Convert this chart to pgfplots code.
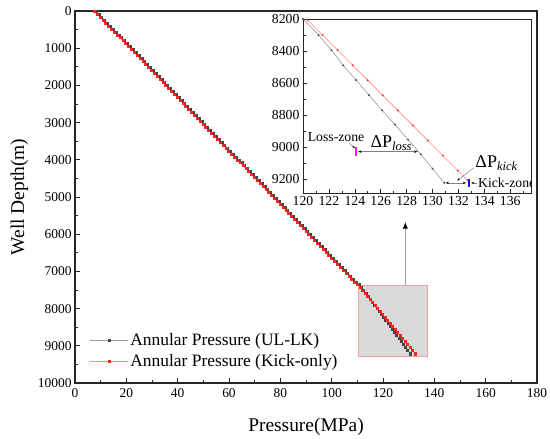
\documentclass[border=0pt]{standalone}
\usepackage{fontspec}
\setmainfont{Liberation Serif}
\usepackage{pgfplots}
\pgfplotsset{compat=1.18}
\usepackage{pgfplotstable}
\usetikzlibrary{arrows.meta}
\definecolor{ulk}{HTML}{454545}
\definecolor{ulkline}{HTML}{9A9A9A}
\definecolor{kick}{HTML}{FF2020}
\definecolor{kickline}{HTML}{FF8A8A}
\definecolor{boxedge}{HTML}{F0A0A0}
\definecolor{losscol}{HTML}{E020E0}
\definecolor{kickcol}{HTML}{1010F0}

\pgfplotstableread{
P D
8.20 0
9.31 80
10.43 160
11.54 240
12.66 320
13.77 400
14.89 480
16.00 560
17.12 640
18.23 720
19.34 800
20.46 880
21.57 960
22.69 1040
23.80 1120
24.92 1200
26.03 1280
27.14 1360
28.26 1440
29.37 1520
30.49 1600
31.60 1680
32.72 1760
33.83 1840
34.95 1920
36.06 2000
37.17 2080
38.29 2160
39.40 2240
40.52 2320
41.63 2400
42.75 2480
43.86 2560
44.98 2640
46.09 2720
47.20 2800
48.32 2880
49.43 2960
50.55 3040
51.66 3120
52.78 3200
53.89 3280
55.00 3360
56.12 3440
57.23 3520
58.35 3600
59.46 3680
60.58 3760
61.69 3840
62.81 3920
63.92 4000
65.03 4080
66.15 4160
67.26 4240
68.38 4320
69.49 4400
70.61 4480
71.72 4560
72.84 4640
73.95 4720
75.06 4800
76.18 4880
77.29 4960
78.41 5040
79.52 5120
80.64 5200
81.75 5280
82.86 5360
83.98 5440
85.09 5520
86.21 5600
87.32 5680
88.44 5760
89.55 5840
90.67 5920
91.78 6000
92.89 6080
94.01 6160
95.12 6240
96.24 6320
97.35 6400
98.47 6480
99.58 6560
100.70 6640
101.81 6720
102.92 6800
104.04 6880
105.15 6960
106.27 7040
107.38 7120
108.50 7200
109.61 7280
110.72 7360
111.58 7440
112.44 7520
113.30 7600
114.16 7680
115.02 7760
115.88 7840
116.74 7920
117.60 8000
118.46 8080
119.32 8160
120.18 8240
121.04 8320
121.90 8400
122.76 8480
123.62 8560
124.48 8640
125.34 8720
126.20 8800
127.06 8880
127.92 8960
128.78 9040
129.64 9120
130.50 9200
130.80 9222
}\ulkmain

\pgfplotstableread{
P D
7.50 0
8.61 80
9.73 160
10.84 240
11.96 320
13.07 400
14.19 480
15.30 560
16.42 640
17.53 720
18.64 800
19.76 880
20.87 960
21.99 1040
23.10 1120
24.22 1200
25.33 1280
26.44 1360
27.56 1440
28.67 1520
29.79 1600
30.90 1680
32.02 1760
33.13 1840
34.25 1920
35.36 2000
36.47 2080
37.59 2160
38.70 2240
39.82 2320
40.93 2400
42.05 2480
43.16 2560
44.28 2640
45.39 2720
46.50 2800
47.62 2880
48.73 2960
49.85 3040
50.96 3120
52.08 3200
53.19 3280
54.30 3360
55.42 3440
56.53 3520
57.65 3600
58.76 3680
59.88 3760
60.99 3840
62.11 3920
63.22 4000
64.33 4080
65.45 4160
66.56 4240
67.68 4320
68.79 4400
69.91 4480
71.02 4560
72.14 4640
73.25 4720
74.36 4800
75.48 4880
76.59 4960
77.71 5040
78.82 5120
79.94 5200
81.05 5280
82.16 5360
83.28 5440
84.39 5520
85.51 5600
86.62 5680
87.74 5760
88.85 5840
89.97 5920
91.08 6000
92.19 6080
93.31 6160
94.42 6240
95.54 6320
96.65 6400
97.77 6480
98.88 6560
100.00 6640
101.11 6720
102.22 6800
103.34 6880
104.45 6960
105.57 7040
106.68 7120
107.80 7200
108.91 7280
110.02 7360
110.99 7440
111.97 7520
112.94 7600
113.91 7680
114.89 7760
115.86 7840
116.84 7920
117.81 8000
118.78 8080
119.76 8160
120.73 8240
121.71 8320
122.68 8400
123.65 8480
124.63 8560
125.60 8640
126.58 8720
127.55 8800
128.52 8880
129.50 8960
130.47 9040
131.45 9120
132.42 9200
132.70 9222
}\kickmain

\pgfplotstableread{
P D
120.0 8200
121.2 8300
122.2 8394
123.1 8489
124.1 8581
125.1 8675
126.1 8769
127.1 8858
128.1 8952
129.1 9044
130.0 9133
130.9 9222
}\ulkzoom

\pgfplotstableread{
P D
119.25 8112
120.35 8206
121.51 8300
122.67 8394
123.83 8488
124.99 8582
126.15 8676
127.32 8770
128.48 8864
129.64 8958
130.80 9052
131.96 9146
132.70 9206
}\kickzoom

\begin{document}
\begin{tikzpicture}
\begin{axis}[
  at={(0bp,0bp)}, anchor=south west, scale only axis,
  width=462bp, height=372bp,
  xmin=0, xmax=180, ymin=0, ymax=10000, y dir=reverse,
  xtick distance=20, ytick distance=1000,
  minor x tick num=1, minor y tick num=1,
  scaled x ticks=false, scaled y ticks=false,
  tick pos=left, tick align=inside,
  major tick length=5bp, minor tick length=3bp,
  axis line style={line width=1.1bp, color=black!85},
  every tick/.style={black!85, line width=0.8bp},
  /pgf/number format/assume math mode=true,
  /pgf/number format/1000 sep={},
  ticklabel style={font=\fontsize{13.5}{14}\selectfont},
  xticklabel style={yshift=-2bp},
  xlabel={Pressure(MPa)}, ylabel={Well Depth(m)},
  label style={font=\fontsize{19.5}{21}\selectfont},
  xlabel style={at={(axis description cs:0.5,-0.118)}, anchor=center},
  ylabel style={at={(axis description cs:-0.12,0.5)}, anchor=center},
  legend style={draw=none, fill=none, at={(axis description cs:0.025,0.03)},
    anchor=south west, font=\fontsize{17.5}{19}\selectfont, row sep=3bp},
  legend cell align=left,
  legend image code/.code={\draw[mark repeat=2,mark phase=2,#1] plot coordinates {(0bp,0bp) (19bp,0bp) (38bp,0bp)};},
]
\addplot[ulkline, line width=0.6bp, mark=square*, mark size=1.0bp,
  mark options={draw=ulk, fill=ulk}] table[x=P, y=D] {\ulkmain};
\addlegendentry{Annular Pressure (UL-LK)}
\addplot[kickline, line width=0.6bp, mark=square*, mark size=1.0bp,
  mark options={draw=kick, fill=kick}] table[x=P, y=D] {\kickmain};
\addlegendentry{Annular Pressure (Kick-only)}
\draw[draw=boxedge, line width=0.9bp, fill=gray, fill opacity=0.3]
  (axis cs:110.5,7366) rectangle (axis cs:137.4,9274);
\draw[gray!75, line width=1.4bp, -{Latex[black,length=7bp,width=5.5bp]}]
  (axis cs:128.7,7366) -- (axis cs:128.7,5664);
\end{axis}

\begin{axis}[
  at={(228bp,190bp)}, anchor=south west, scale only axis,
  width=228bp, height=174bp,
  xmin=120, xmax=137.6, ymin=8200, ymax=9285, y dir=reverse,
  xtick distance=2, ytick distance=200,
  minor x tick num=1, minor y tick num=1,
  scaled x ticks=false, scaled y ticks=false,
  tick pos=left, tick align=inside,
  major tick length=4bp, minor tick length=2.5bp,
  axis line style={line width=0.8bp, color=black!85},
  every tick/.style={black!85, line width=0.6bp},
  axis background/.style={fill=white},
  /pgf/number format/assume math mode=true,
  /pgf/number format/1000 sep={},
  ticklabel style={font=\fontsize{13.8}{14}\selectfont},
]
\addplot[ulkline, line width=0.6bp, mark=*, mark size=0.6bp,
  mark options={draw=ulk, fill=ulk}] table[x=P, y=D] {\ulkzoom};
\addplot[kickline, line width=0.6bp, mark=*, mark size=0.6bp,
  mark options={draw=kick, fill=kick}] table[x=P, y=D] {\kickzoom};
\addplot[losscol, line width=2.5bp] coordinates {(124.1,8998) (124.1,9056)};
\addplot[kickcol, line width=2.5bp] coordinates {(132.8,9198) (132.8,9250)};
\draw[gray, line width=0.6bp, {Stealth[black,length=3.5bp,width=2.5bp]}-{Stealth[black,length=3.5bp,width=2.5bp]}]
  (axis cs:124.25,9027) -- (axis cs:128.85,9027);
\draw[gray, line width=0.6bp, {Stealth[black,length=3.5bp,width=2.5bp]}-{Stealth[black,length=3.5bp,width=2.5bp]}]
  (axis cs:131.0,9222) -- (axis cs:132.6,9222);
\draw[gray, line width=0.5bp, -{Stealth[black,length=3bp,width=2.2bp]}]
  (axis cs:123.55,8972) -- (axis cs:124.0,9005);
\draw[gray, line width=0.5bp, -{Stealth[black,length=3bp,width=2.2bp]}]
  (axis cs:133.15,9130) -- (axis cs:131.9,9208);
\draw[gray, line width=0.5bp, -{Stealth[black,length=3bp,width=2.2bp]}]
  (axis cs:133.45,9222) -- (axis cs:132.98,9222);
\node[font=\fontsize{13.8}{14}\selectfont, inner sep=0pt] at (axis cs:122.55,8937) {Loss-zone};
\node[font=\fontsize{13.8}{14}\selectfont, inner sep=0pt, anchor=west] at (axis cs:133.5,9222) {Kick-zone};
\node[font=\fontsize{18}{19}\selectfont, inner sep=0pt, anchor=base west] at (axis cs:125.2,9000) {ΔP\textsubscript{\textit{loss}}};
\node[font=\fontsize{18}{19}\selectfont, inner sep=0pt, anchor=base west] at (axis cs:133.3,9125) {ΔP\textsubscript{\textit{kick}}};
\end{axis}
\pgfresetboundingbox
\path (-75bp,-56bp) rectangle (475bp,383bp);
\end{tikzpicture}
\end{document}
